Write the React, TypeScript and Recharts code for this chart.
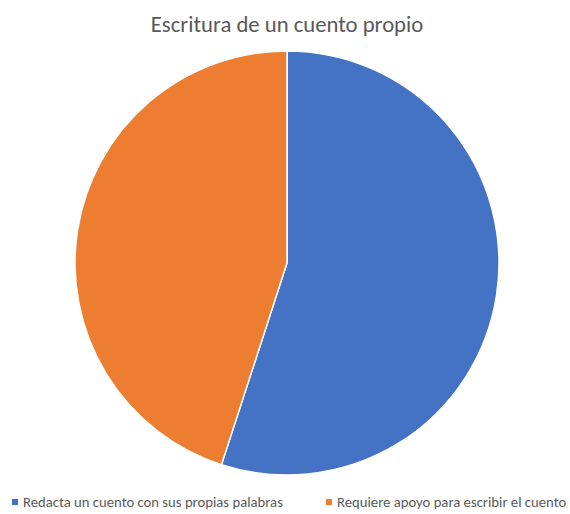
import React from "react";
import { PieChart, Pie, Cell, Legend } from "recharts";

const categories = ["Redacta un cuento con sus propias palabras", "Requiere apoyo para escribir el cuento"];
const values = [11, 9];
const colors = ["#4472C4", "#ED7D31"];

const data = categories.map((name, i) => ({ name, value: values[i] }));

const FONT = "Carlito, Calibri, 'Open Sans', sans-serif";

function LegendContent() {
  return (
    <div style={{ position: "relative", height: 20, fontFamily: FONT, fontSize: 14.7, color: "#595959" }}>
      {categories.map((c, i) => (
        <div
          key={c}
          style={{ position: "absolute", left: i === 0 ? 12 : 326, top: 0, display: "flex", alignItems: "center", whiteSpace: "nowrap" }}
        >
          <span style={{ display: "inline-block", width: 6, height: 6, background: colors[i], marginRight: 5 }} />
          {c}
        </div>
      ))}
    </div>
  );
}

export default function App() {
  return (
    <div style={{ position: "absolute", left: 0, top: 0, width: 570, height: 514, background: "#fff" }}>
      <PieChart width={570} height={514} margin={{ top: 0, right: 0, bottom: 0, left: 0 }}>
        <text x={287} y={32} textAnchor="middle" fill="#595959" style={{ fontFamily: FONT, fontSize: 22.7 }}>
          Escritura de un cuento propio
        </text>
        <Pie
          data={data}
          dataKey="value"
          nameKey="name"
          cx={287}
          cy={263}
          outerRadius={212}
          startAngle={90}
          endAngle={-270}
          stroke="#ffffff"
          strokeWidth={1.5}
          isAnimationActive={false}
        >
          {data.map((d, i) => (
            <Cell key={d.name} fill={colors[i]} />
          ))}
        </Pie>
        <Legend verticalAlign="bottom" align="left" wrapperStyle={{ left: 0, bottom: 1, width: 570 }} content={() => <LegendContent />} />
      </PieChart>
    </div>
  );
}
